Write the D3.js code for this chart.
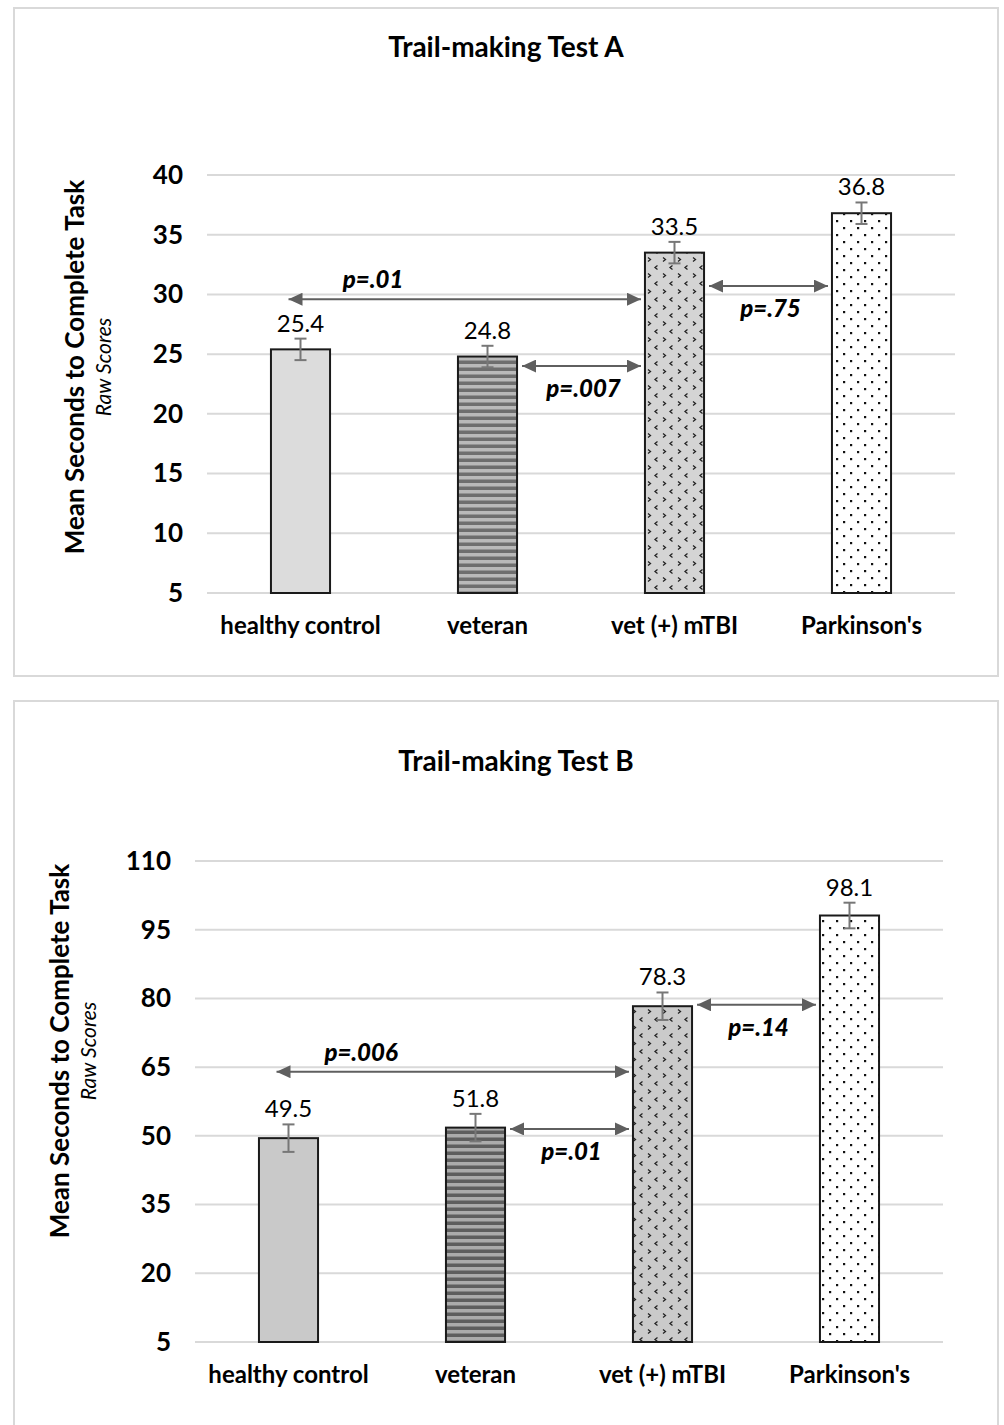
<!doctype html>
<html>
<head>
<meta charset="utf-8" />
<script src="https://d3js.org/d3.v7.min.js"></script>
<style>
  body { margin: 0; background: #fff; }
  text { font-family: Lato, "Open Sans", sans-serif; }
</style>
</head>
<body>
<div id="chart"></div>
<script>

// data
var categories = ["healthy control", "veteran", "vet (+) mTBI", "Parkinson's"];

var titleA = "Trail-making Test A";
var meansA = [25.4, 24.8, 33.5, 36.8];
var errA = [0.9, 0.9, 0.9, 0.9];
var ticksA = [5, 10, 15, 20, 25, 30, 35, 40];
var pairsA = [
  {label: "p=.01", from: 0, to: 2, level: 29.6},
  {label: "p=.007", from: 1, to: 2, level: 24.0},
  {label: "p=.75", from: 2, to: 3, level: 30.7}
];

var titleB = "Trail-making Test B";
var meansB = [49.5, 51.8, 78.3, 98.1];
var errB = [3.0, 3.0, 3.0, 2.8];
var ticksB = [5, 20, 35, 50, 65, 80, 95, 110];
var pairsB = [
  {label: "p=.006", from: 0, to: 2, level: 64.0},
  {label: "p=.01", from: 1, to: 2, level: 51.5},
  {label: "p=.14", from: 2, to: 3, level: 78.6}
];

var svg = d3.select("#chart").append("svg")
  .attr("width", 1004).attr("height", 1425);

svg.append("rect").attr("width", 1004).attr("height", 1425).attr("fill", "#fff");

var defs = svg.append("defs");

// bar fills
function makePatterns(suffix, grey, chevBg, stripeDark, stripeLight) {
  var p;
  p = defs.append("pattern").attr("id", "stripes" + suffix)
    .attr("patternUnits", "userSpaceOnUse").attr("width", 7).attr("height", 7);
  p.append("rect").attr("width", 7).attr("height", 7).attr("fill", stripeLight);
  p.append("rect").attr("y", 3.5).attr("width", 7).attr("height", 3.5).attr("fill", stripeDark);

  p = defs.append("pattern").attr("id", "chev" + suffix)
    .attr("patternUnits", "userSpaceOnUse").attr("width", 15).attr("height", 16);
  p.append("rect").attr("width", 15).attr("height", 16).attr("fill", chevBg);
  p.append("path").attr("d", "M3,1.5 L5.5,3.5 L3,5.5")
    .attr("fill", "none").attr("stroke", "#222").attr("stroke-width", 1.3);
  p.append("path").attr("d", "M12.5,9.5 L10,11.5 L12.5,13.5")
    .attr("fill", "none").attr("stroke", "#222").attr("stroke-width", 1.3);

  p = defs.append("pattern").attr("id", "dots" + suffix)
    .attr("patternUnits", "userSpaceOnUse").attr("width", 14).attr("height", 14);
  p.append("rect").attr("width", 14).attr("height", 14).attr("fill", "#fff");
  p.append("rect").attr("x", 3).attr("y", 3).attr("width", 2.2).attr("height", 2.2).attr("fill", "#111");
  p.append("rect").attr("x", 10).attr("y", 10).attr("width", 2.2).attr("height", 2.2).attr("fill", "#111");

  return [grey, "url(#stripes" + suffix + ")", "url(#chev" + suffix + ")", "url(#dots" + suffix + ")"];
}

var fillsA = makePatterns("A", "#dcdcdc", "#d4d4d4", "#6e6e6e", "#b9b9b9");
var fillsB = makePatterns("B", "#c9c9c9", "#cacaca", "#5e5e5e", "#ababab");

defs.append("marker").attr("id", "head")
  .attr("viewBox", "0 0 10 10").attr("refX", 10).attr("refY", 5)
  .attr("markerWidth", 7).attr("markerHeight", 6.5).attr("markerUnits", "strokeWidth")
  .attr("orient", "auto-start-reverse")
  .attr("preserveAspectRatio", "none")
  .append("path").attr("d", "M0,0 L10,5 L0,10 Z").attr("fill", "#5f5f5f");

function drawPanel(cfg) {
  var g = svg.append("g");

  g.append("rect")
    .attr("x", cfg.box[0]).attr("y", cfg.box[1])
    .attr("width", cfg.box[2]).attr("height", cfg.box[3])
    .attr("fill", "none").attr("stroke", "#d9d9d9").attr("stroke-width", 2);

  g.append("text")
    .attr("x", cfg.titleX).attr("y", cfg.titleY)
    .attr("text-anchor", "middle")
    .style("font-size", "28px").style("font-weight", "bold")
    .text(cfg.title);

  var x = d3.scaleBand().domain(cfg.categories).range([cfg.left, cfg.right]).paddingInner(0.684).paddingOuter(0.342);
  var y = d3.scaleLinear().domain([cfg.ticks[0], cfg.ticks[cfg.ticks.length - 1]]).range([cfg.bottom, cfg.top]);

  // gridlines
  g.append("g").selectAll("line").data(cfg.ticks).enter().append("line")
    .attr("x1", cfg.left).attr("x2", cfg.right)
    .attr("y1", d => y(d)).attr("y2", d => y(d))
    .attr("stroke", "#d9d9d9").attr("stroke-width", 2);

  // tick labels
  var yAxis = g.append("g")
    .attr("transform", "translate(" + (cfg.left - 24) + ",0)")
    .call(d3.axisLeft(y).tickValues(cfg.ticks).tickSize(0).tickPadding(0));
  yAxis.select(".domain").remove();
  yAxis.selectAll("text")
    .style("font-family", "Lato, sans-serif")
    .style("font-size", "26px").style("font-weight", "bold").attr("fill", "#000");

  // axis titles
  g.append("text")
    .attr("transform", "translate(" + cfg.yTitleX + "," + cfg.yTitleMid + ") rotate(-90)")
    .attr("text-anchor", "middle")
    .style("font-size", "26px").style("font-weight", "bold")
    .text("Mean Seconds to Complete Task");
  g.append("text")
    .attr("transform", "translate(" + (cfg.yTitleX + 27) + "," + cfg.yTitleMid + ") rotate(-90)")
    .attr("text-anchor", "middle")
    .style("font-size", "21px").style("font-style", "italic")
    .text("Raw Scores");

  // bars
  var rows = cfg.categories.map((c, i) => ({cat: c, mean: cfg.means[i], err: cfg.errs[i], fill: cfg.fills[i]}));

  g.append("g").selectAll("rect").data(rows).enter().append("rect")
    .attr("x", d => x(d.cat))
    .attr("y", d => y(d.mean))
    .attr("width", x.bandwidth())
    .attr("height", d => y(cfg.ticks[0]) - y(d.mean))
    .attr("fill", d => d.fill)
    .attr("stroke", "#1a1a1a").attr("stroke-width", 2);

  // error bars
  var eb = g.append("g").attr("stroke", "#777").attr("stroke-width", 2);
  rows.forEach(function(d) {
    var cx = x(d.cat) + x.bandwidth() / 2;
    eb.append("line").attr("x1", cx).attr("x2", cx).attr("y1", y(d.mean + d.err)).attr("y2", y(d.mean - d.err));
    eb.append("line").attr("x1", cx - 6).attr("x2", cx + 6).attr("y1", y(d.mean + d.err)).attr("y2", y(d.mean + d.err));
    eb.append("line").attr("x1", cx - 6).attr("x2", cx + 6).attr("y1", y(d.mean - d.err)).attr("y2", y(d.mean - d.err));
  });

  // value labels
  g.append("g").selectAll("text").data(rows).enter().append("text")
    .attr("x", d => x(d.cat) + x.bandwidth() / 2)
    .attr("y", d => y(d.mean + d.err) - 7)
    .attr("text-anchor", "middle")
    .style("font-size", "24px")
    .text(d => d.mean.toFixed(1));

  // category labels
  g.append("g").selectAll("text").data(cfg.categories).enter().append("text")
    .attr("x", d => x(d) + x.bandwidth() / 2)
    .attr("y", cfg.bottom + 41)
    .attr("text-anchor", "middle")
    .style("font-size", "24px").style("font-weight", "bold")
    .text(d => d);

  // significance arrows
  cfg.pairs.forEach(function(p) {
    var c0 = cfg.categories[p.from], c1 = cfg.categories[p.to];
    var ay = y(p.level);
    var x0, x1 = x(c1) - 4, lx, ly;
    if (p.to - p.from > 1) {
      x0 = x(c0) + x.bandwidth() / 2 - 12;
      lx = x0 + (x1 - x0) * 0.24;
      ly = ay - 11;
    } else {
      x0 = x(c0) + x.bandwidth() + 5;
      lx = (x0 + x1) / 2 + 2;
      ly = ay + 31;
    }
    g.append("line")
      .attr("x1", x0).attr("x2", x1).attr("y1", ay).attr("y2", ay)
      .attr("stroke", "#5f5f5f").attr("stroke-width", 2)
      .attr("marker-start", "url(#head)").attr("marker-end", "url(#head)");
    g.append("text")
      .attr("x", lx).attr("y", ly)
      .attr("text-anchor", "middle")
      .style("font-size", "24px").style("font-weight", "900").style("font-style", "italic")
      .text(p.label);
  });
}

drawPanel({
  box: [14, 8, 984, 668],
  title: titleA, titleX: 506, titleY: 57,
  categories: categories, means: meansA, errs: errA, ticks: ticksA, pairs: pairsA, fills: fillsA,
  left: 207, right: 955, top: 175, bottom: 593, yTitleX: 84, yTitleMid: 367
});

drawPanel({
  box: [14, 701, 984, 740],
  title: titleB, titleX: 516, titleY: 771,
  categories: categories, means: meansB, errs: errB, ticks: ticksB, pairs: pairsB, fills: fillsB,
  left: 195, right: 943, top: 861, bottom: 1342, yTitleX: 69, yTitleMid: 1051
});

</script>
</body>
</html>
